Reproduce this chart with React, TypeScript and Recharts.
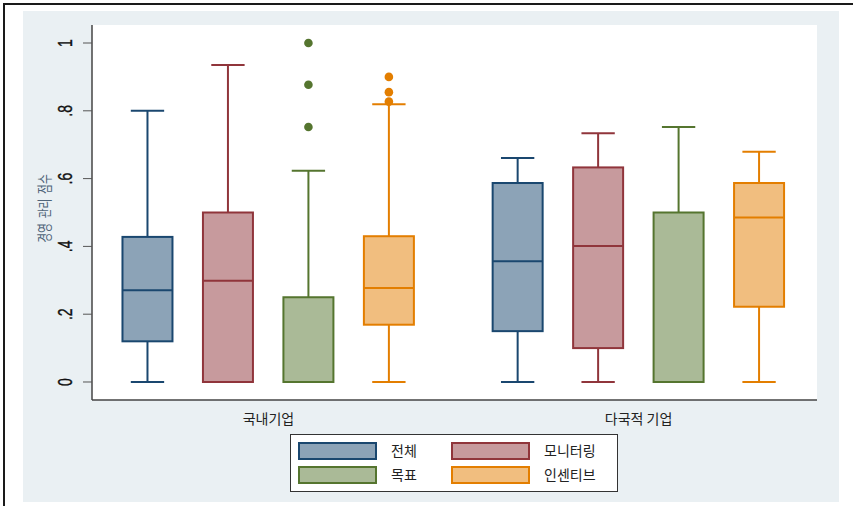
import { ComposedChart, Bar, XAxis, YAxis, CartesianGrid, Label } from 'recharts'

// groups on the x axis and the four measures drawn in each group
const categories = ['국내기업', '다국적 기업']
const seriesNames = ['전체', '모니터링', '목표', '인센티브']

// box statistics per group: [lower whisker, q1, median, q3, upper whisker]
const overallBox = [
  [0, 0.12, 0.271, 0.428, 0.8],
  [0, 0.15, 0.356, 0.587, 0.661],
]
const monitoringBox = [
  [0, 0, 0.299, 0.5, 0.935],
  [0, 0.1, 0.401, 0.633, 0.734],
]
const targetBox = [
  [0, 0, 0, 0.25, 0.623],
  [0, 0, 0, 0.5, 0.752],
]
const incentiveBox = [
  [0, 0.169, 0.277, 0.43, 0.819],
  [0, 0.222, 0.485, 0.587, 0.679],
]

// outside values per group
const overallOutliers: number[][] = [[], []]
const monitoringOutliers: number[][] = [[], []]
const targetOutliers = [[0.752, 0.877, 1.0], []]
const incentiveOutliers = [[0.827, 0.855, 0.9], []]

const yTicks = [0, 0.2, 0.4, 0.6, 0.8, 1]

const boxes = [overallBox, monitoringBox, targetBox, incentiveBox]
const outliers = [overallOutliers, monitoringOutliers, targetOutliers, incentiveOutliers]

const STYLES = [
  { stroke: '#1a476f', fill: '#8ca3b7' },
  { stroke: '#90353b', fill: '#c79a9d' },
  { stroke: '#55752f', fill: '#aaba97' },
  { stroke: '#e37e00', fill: '#f1be7f' },
]

const GROUP_STEP = 4.6
const groupCenters = categories.map((_, g) => 1 + g * GROUP_STEP + (seriesNames.length - 1) / 2)

const rows = categories.flatMap((cat, g) =>
  seriesNames.map((name, i) => {
    const stats = boxes[i][g]
    return {
      pos: 1 + i + g * GROUP_STEP,
      category: cat,
      name,
      range: [stats[0], stats[4]],
      stats,
      outliers: outliers[i][g],
      ...STYLES[i],
    }
  })
)

const KR_FONT = "'Noto Sans CJK KR', 'Noto Sans', sans-serif"
const NUM_FONT = "'Liberation Sans', Arial, sans-serif"

function BoxShape(props: any) {
  const { x, y, width, height, payload } = props
  const [lo, q1, med, q3, hi] = payload.stats
  const span = hi - lo
  // the bar covers [lo, hi]; map any value into pixels along that span
  const toPx = (v: number) => y + ((hi - v) / span) * height
  const cx = x + width / 2
  const cap = width / 3
  const sw = 2
  return (
    <g>
      <line x1={cx} x2={cx} y1={toPx(hi)} y2={toPx(q3)} stroke={payload.stroke} strokeWidth={sw} />
      <line x1={cx} x2={cx} y1={toPx(q1)} y2={toPx(lo)} stroke={payload.stroke} strokeWidth={sw} />
      <line x1={cx - cap} x2={cx + cap} y1={toPx(hi)} y2={toPx(hi)} stroke={payload.stroke} strokeWidth={sw} />
      <line x1={cx - cap} x2={cx + cap} y1={toPx(lo)} y2={toPx(lo)} stroke={payload.stroke} strokeWidth={sw} />
      <rect
        x={x}
        y={toPx(q3)}
        width={width}
        height={Math.max(toPx(q1) - toPx(q3), 0)}
        fill={payload.fill}
        stroke={payload.stroke}
        strokeWidth={sw}
      />
      <line x1={x} x2={x + width} y1={toPx(med)} y2={toPx(med)} stroke={payload.stroke} strokeWidth={sw} />
      {payload.outliers.map((v: number) => (
        <circle key={v} cx={cx} cy={toPx(v)} r={4.3} fill={payload.stroke} />
      ))}
    </g>
  )
}

const fmtTick = (v: number) => (v === 0 ? '0' : v === 1 ? '1' : String(v).replace(/^0/, ''))

function YTick({ x, y, payload }: any) {
  return (
    <text
      transform={`translate(${x - 16},${y}) rotate(-90) scale(1,1.5)`}
      textAnchor="middle"
      dominantBaseline="central"
      fontSize={14}
      fontFamily={NUM_FONT}
      fill="#111"
      stroke="#111"
      strokeWidth={0.25}
    >
      {fmtTick(payload.value)}
    </text>
  )
}

function XTick({ x, y, payload }: any) {
  const idx = groupCenters.indexOf(payload.value)
  return (
    <text x={x} y={y + 10} textAnchor="middle" dominantBaseline="central" fontSize={14} fontFamily={KR_FONT} fill="#222">
      {categories[idx]}
    </text>
  )
}

function YTitle({ viewBox }: any) {
  const cx = viewBox.x + 20.5
  const cy = viewBox.y + viewBox.height / 2 - 4
  return (
    <text
      transform={`translate(${cx},${cy}) rotate(-90) scale(0.82,1.1)`}
      textAnchor="middle"
      dominantBaseline="central"
      fontSize={13}
      fontFamily={KR_FONT}
      fill="#4f6479"
      style={{ whiteSpace: 'pre' }}
    >
      {'경영  관리  점수'}
    </text>
  )
}

function LegendBox() {
  return (
    <div
      style={{
        position: 'absolute',
        left: 290,
        top: 434,
        width: 326,
        height: 56,
        background: '#fff',
        border: '1.5px solid #333',
        fontFamily: KR_FONT,
        fontSize: 14,
        color: '#222',
      }}
    >
      {seriesNames.map((name, i) => {
        const col = i % 2
        const row = Math.floor(i / 2)
        const left = 7 + col * 153
        const top = 6.5 + row * 24.5
        return (
          <div key={name}>
            <div
              style={{
                position: 'absolute',
                left,
                top,
                width: 75,
                height: 14,
                background: STYLES[i].fill,
                border: `2px solid ${STYLES[i].stroke}`,
              }}
            />
            <div style={{ position: 'absolute', left: left + 93, top: top - 1, lineHeight: '18px' }}>{name}</div>
          </div>
        )
      })}
    </div>
  )
}

export default function App() {
  return (
    <div style={{ position: 'absolute', left: 0, top: 0, width: 853, height: 506, overflow: 'hidden', background: '#fff' }}>
      <div style={{ position: 'absolute', left: 3, top: 3, width: 900, height: 600, border: '2px solid #1a1a1a' }} />
      <div style={{ position: 'absolute', left: 23, top: 11, width: 816, height: 491, background: '#eaf0f3' }}>
        <ComposedChart width={816} height={491} data={rows} margin={{ top: 14, right: 22, bottom: 0, left: 0 }}>
          <CartesianGrid horizontal={false} vertical={false} fill="#fff" stroke="none" />
          <XAxis
            type="number"
            dataKey="pos"
            domain={[0.3077, 9.317]}
            allowDataOverflow
            ticks={groupCenters}
            tick={<XTick />}
            tickLine={false}
            axisLine={{ stroke: '#444', strokeWidth: 1.5 }}
            height={102}
            interval={0}
          />
          <YAxis
            type="number"
            domain={[-0.0531, 1.0531]}
            allowDataOverflow
            ticks={yTicks}
            tick={<YTick />}
            tickSize={9}
            tickLine={{ stroke: '#555' }}
            axisLine={{ stroke: '#444', strokeWidth: 1.5 }}
            width={69}
            interval={0}
          >
            <Label content={<YTitle />} />
          </YAxis>
          <Bar dataKey="range" barSize={50} shape={<BoxShape />} isAnimationActive={false} />
        </ComposedChart>
      </div>
      <LegendBox />
    </div>
  )
}
